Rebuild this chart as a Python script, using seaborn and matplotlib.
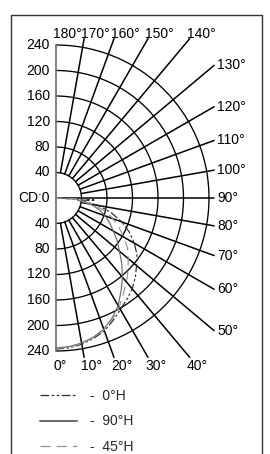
import numpy as np
import pandas as pd
import matplotlib
matplotlib.use("Agg")
import matplotlib.pyplot as plt
import seaborn as sns

# ---------------- data ----------------
ring_values = [40, 80, 120, 160, 200, 240]
left_label_values = [240, 200, 160, 120, 80, 40, 0, -40, -80, -120, -160, -200, -240]
left_label_texts = ["240", "200", "160", "120", "80", "40", "CD:0",
                    "40", "80", "120", "160", "200", "240"]
ray_angles = [10, 20, 30, 40, 50, 60, 70, 80, 90, 100, 110, 120, 130, 140, 150, 160, 170]
label_angles = [0, 10, 20, 30, 40, 50, 60, 70, 80, 90, 100, 110, 120, 130, 140, 150, 160, 170, 180]
series_names = ["0°H", "90°H", "45°H"]
angles_deg = [0, 5, 10, 15, 20, 25, 30, 35, 40, 45, 50, 55, 60, 65, 70, 75, 80, 84, 87, 90]
cd_0H = [237, 236, 233, 228, 222, 212, 202, 194, 186, 176, 165, 155, 142, 127, 110, 90, 68, 40, 62, 0]
cd_45H = [236, 235, 232, 227, 220, 210, 198, 184, 172, 160, 148, 137, 123, 109, 95, 80, 60, 36, 48, 0]
cd_90H = [235, 234, 231, 226, 219, 208, 195, 178, 162, 146, 130, 117, 104, 93, 82, 70, 55, 34, 35, 0]

# ---------------- layout ----------------
W, H = 270, 454
CX, CY = 56, 198          # pixel position of the pole
S = 0.6375                # pixels per cd unit
BOX_TOP, BOX_RIGHT = 250, 248

sns.set_theme(style="white")
plt.rcParams["font.family"] = ["Liberation Sans", "DejaVu Sans"]
FS = 10

fig = plt.figure(figsize=(W / 100, H / 100), dpi=100)
ax = fig.add_axes([0, 0, 1, 1])
ax.set_xlim(-CX / S, (W - CX) / S)
ax.set_ylim(-(H - CY) / S, CY / S)
px = 1 / S  # one pixel in data units

# rings
th = np.linspace(0, np.pi, 300)
for r in ring_values:
    ax.plot(r * np.sin(th), -r * np.cos(th), color="black", lw=0.95, zorder=2)
# vertical axis
ax.plot([0, 0], [-ring_values[-1], ring_values[-1]], color="#777777", lw=1.3, zorder=3)

# rays
for a in ray_angles:
    t = np.radians(a)
    sx, sy = np.sin(t), -np.cos(t)
    L = BOX_RIGHT / sx
    if abs(sy) > 1e-9:
        L = min(L, BOX_TOP / abs(sy))
    r0 = 0 if a == 90 else ring_values[0]
    ax.plot([r0 * sx, L * sx], [r0 * sy, L * sy], color="black", lw=1.1, zorder=2)

# angle labels
for a in label_angles:
    t = np.radians(a)
    sx, sy = np.sin(t), -np.cos(t)
    L = BOX_RIGHT / sx if sx > 1e-9 else np.inf
    if abs(sy) > 1e-9:
        L = min(L, BOX_TOP / abs(sy))
    ex, ey = L * sx, L * sy
    lab = f"{a}°"
    if abs(ex - BOX_RIGHT) < 1e-6:
        ax.text(ex + 3 * px, ey, lab, ha="left", va="center", fontsize=FS, color="black")
    elif ey > 0:
        ax.text(ex - 3 * px, ey + 1 * px, lab, ha="left", va="baseline", fontsize=FS, color="black")
    else:
        ax.text(ex - 3 * px, ey - 13 * px, lab, ha="left", va="baseline", fontsize=FS, color="black")

# left labels
for v, s in zip(left_label_values, left_label_texts):
    ax.text(-6 * px, v, s, ha="right", va="center", fontsize=FS, color="black")

# curves
rows = []
for name, vals in zip(series_names, [cd_0H, cd_90H, cd_45H]):
    for i, (a, r) in enumerate(zip(angles_deg, vals)):
        t = np.radians(a)
        rows.append({"series": name, "order": i, "x": r * np.sin(t), "y": -r * np.cos(t)})
df = pd.DataFrame(rows)
palette = {"0°H": "#2a2a2a", "90°H": "#6a6a6a", "45°H": "#949494"}
dashes = {"0°H": (7, 2, 2, 2, 2, 2), "90°H": "", "45°H": (8, 5)}
sns.lineplot(data=df, x="x", y="y", hue="series", style="series", sort=False,
             estimator=None, palette=palette, dashes=dashes, lw=0.85, ax=ax, zorder=4)

handles, labels = ax.get_legend_handles_labels()
ax.get_legend().remove()
hmap = dict(zip(labels, handles))
new_handles = []
for n in series_names:
    h = hmap[n]
    h.set_linewidth(1.4 if n == "90°H" else 0.9)
    new_handles.append(h)
leg = ax.legend(new_handles, [f"-  {n}" for n in series_names],
                loc="upper left", bbox_to_anchor=(40 / W, 1 - 389 / H),
                frameon=False, fontsize=FS, handlelength=2.65, handletextpad=0.95,
                labelspacing=0.82, borderpad=0, borderaxespad=0)

ax.set_xlabel("")
ax.set_ylabel("")
ax.axis("off")

# outer frame
fig.add_artist(plt.Line2D([11 / W, 11 / W, 262 / W, 262 / W],
                          [1 - 470 / H, 1 - 15 / H, 1 - 15 / H, 1 - 470 / H],
                          transform=fig.transFigure, color="#333333", lw=1.0))

fig.savefig("out.png", dpi=100)
